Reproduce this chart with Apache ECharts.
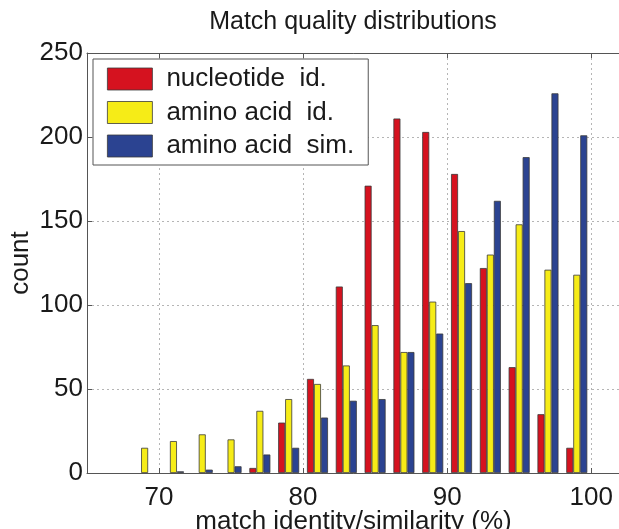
<!DOCTYPE html>
<html>
<head>
<meta charset="utf-8">
<script src="https://cdn.jsdelivr.net/npm/echarts@6/dist/echarts.min.js"></script>
<style>
html,body{margin:0;padding:0;background:#fff;}
#chart{width:619px;height:529px;}
</style>
</head>
<body>
<div id="chart"></div>
<script>
// bin centres (% identity/similarity)
const bins = [69, 71, 73, 75, 77, 79, 81, 83, 85, 87, 89, 91, 93, 95, 97, 99];
const nucleotideId = [0, 0, 0, 0, 3, 30, 56, 111, 171, 211, 203, 178, 122, 63, 35, 15];
const aminoAcidId  = [15, 19, 23, 20, 37, 44, 53, 64, 88, 72, 102, 144, 130, 148, 121, 118];
const aminoAcidSim = [0, 1, 2, 4, 11, 15, 33, 43, 44, 72, 83, 113, 162, 188, 226, 201];
const seriesNames = ['nucleotide  id.', 'amino acid  id.', 'amino acid  sim.'];
const xTicks = [70, 80, 90, 100];
const yTicks = [0, 50, 100, 150, 200, 250];

const colors = ['#d5121f', '#f6ec17', '#2b4391'];
const font = 'Liberation Sans, Arial, Helvetica, sans-serif';

function pairs(vals) {
  return bins.map((b, i) => vals[i] > 0
    ? [b, vals[i]]
    : {value: [b, vals[i]], itemStyle: {borderWidth: 0}});
}

const chart = echarts.init(document.getElementById('chart'), null, {renderer: 'canvas'});
const gridLine = {show: true, lineStyle: {color: '#b5b5b5', type: [2, 3], width: 1}};
const barBase = {type: 'bar', barWidth: 7, barGap: '0%', itemStyle: {borderColor: '#3a3a3a', borderWidth: 0.8}};

chart.setOption({
  animation: false,
  backgroundColor: '#fff',
  textStyle: {fontFamily: font},
  title: {
    text: 'Match quality distributions',
    left: 353, top: 10, padding: 0, textAlign: 'center',
    textStyle: {fontFamily: font, fontSize: 25, fontWeight: 'normal', color: '#1a1a1a'}
  },
  grid: {left: 87, top: 53, width: 533, height: 420, containLabel: false, outerBoundsMode: 'none'},
  legend: {
    orient: 'vertical', left: 93, top: 59,
    padding: [7, 14, 6, 14],
    itemWidth: 45, itemHeight: 22, itemGap: 7.5,
    backgroundColor: '#fff', borderColor: '#555', borderWidth: 1,
    icon: 'rect',
    itemStyle: {borderColor: '#3a3a3a', borderWidth: 0.8},
    textStyle: {fontFamily: font, fontSize: 26, color: '#1a1a1a', lineHeight: 22, padding: [0, 0, 0, 9]},
    data: seriesNames
  },
  xAxis: [{
    type: 'value', min: 65, max: 102, position: 'bottom',
    name: 'match identity/similarity (%)', nameLocation: 'middle', nameGap: 36, nameMoveOverlap: false,
    nameTextStyle: {fontFamily: font, fontSize: 26, color: '#1a1a1a'},
    axisLine: {show: true, onZero: false, lineStyle: {color: '#555', width: 1}},
    axisTick: {show: true, inside: true, length: 5, customValues: xTicks, lineStyle: {color: '#555'}},
    axisLabel: {customValues: xTicks, fontFamily: font, fontSize: 26, color: '#1a1a1a', margin: 12},
    splitLine: Object.assign({customValues: xTicks}, gridLine)
  }, {
    type: 'value', min: 65, max: 102, position: 'top',
    axisLine: {show: true, onZero: false, lineStyle: {color: '#555', width: 1}},
    axisTick: {show: true, inside: true, length: 5, customValues: xTicks, lineStyle: {color: '#555'}},
    axisLabel: {show: false},
    splitLine: {show: false}
  }],
  yAxis: {
    type: 'value', min: 0, max: 250, interval: 50,
    name: 'count', nameLocation: 'middle', nameGap: 53, nameMoveOverlap: false,
    nameTextStyle: {fontFamily: font, fontSize: 26, color: '#1a1a1a'},
    axisLine: {show: true, lineStyle: {color: '#555', width: 1}},
    axisTick: {show: true, inside: true, length: 5, lineStyle: {color: '#555'}},
    axisLabel: {fontFamily: font, fontSize: 26, color: '#1a1a1a', margin: 4},
    splitLine: gridLine
  },
  series: [
    Object.assign({}, barBase, {name: seriesNames[0], data: pairs(nucleotideId), itemStyle: Object.assign({color: colors[0]}, barBase.itemStyle)}),
    Object.assign({}, barBase, {name: seriesNames[1], data: pairs(aminoAcidId), itemStyle: Object.assign({color: colors[1]}, barBase.itemStyle)}),
    Object.assign({}, barBase, {name: seriesNames[2], data: pairs(aminoAcidSim), itemStyle: Object.assign({color: colors[2]}, barBase.itemStyle)})
  ]
});
</script>
</body>
</html>
